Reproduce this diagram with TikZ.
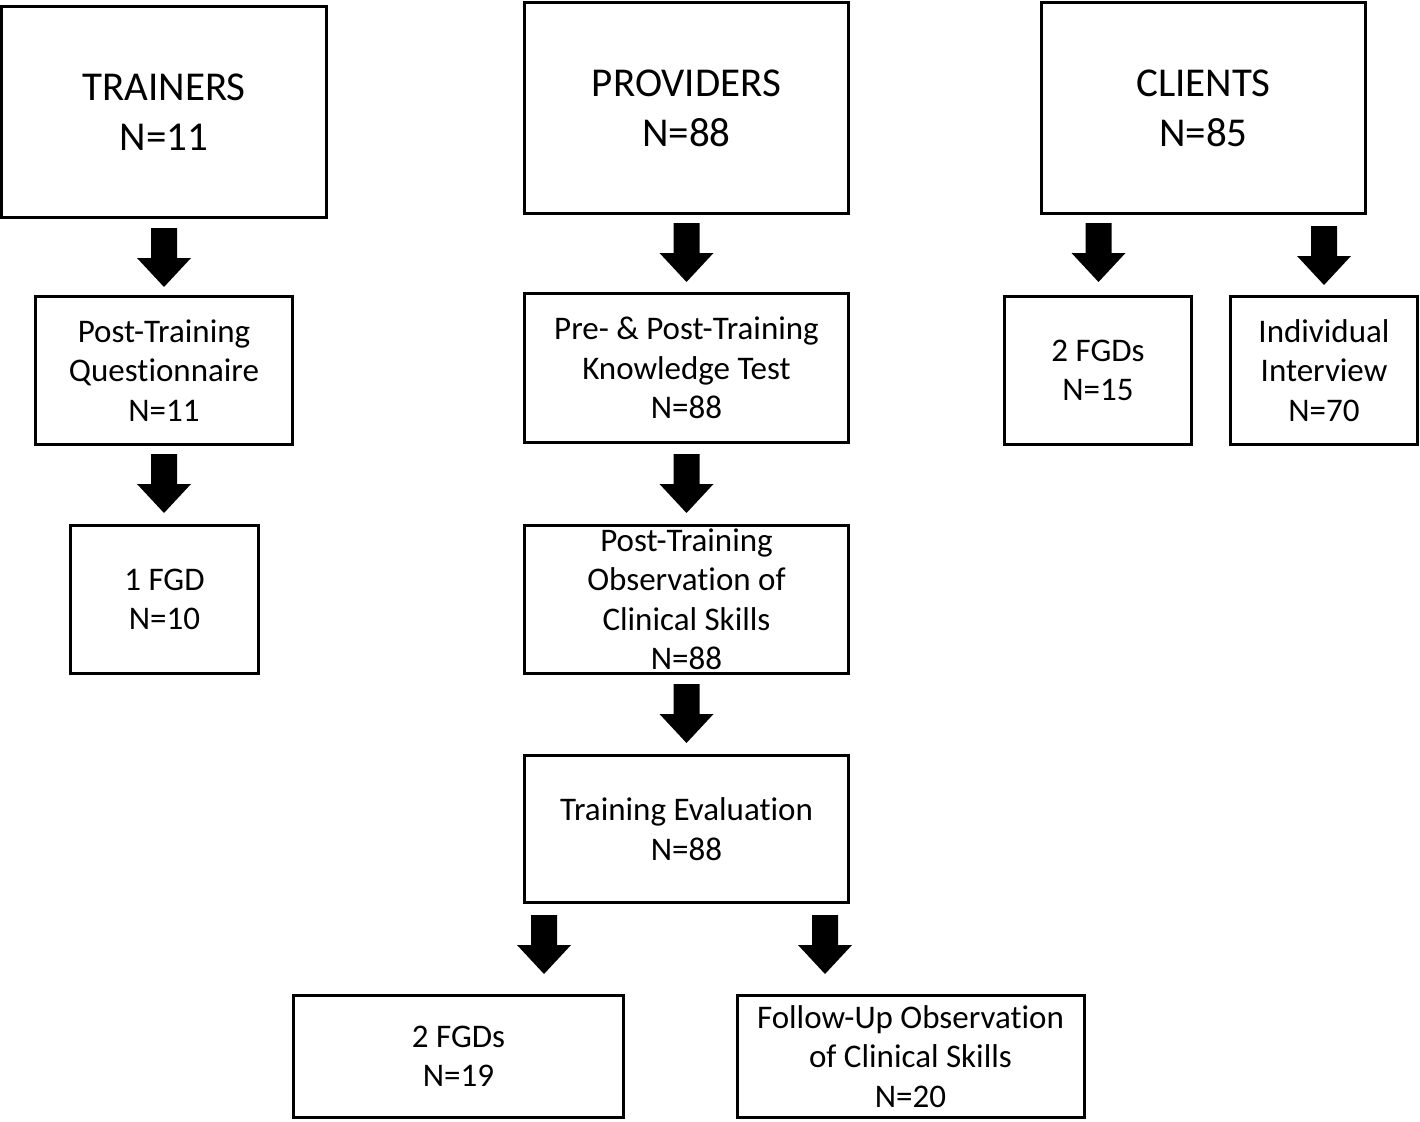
\documentclass[tikz,border=0pt]{standalone}
\usepackage{fontspec}
\setmainfont[RawFeature=-liga]{Carlito}
\begin{document}
\begin{tikzpicture}[x=1pt,y=-1pt,
  box/.style={draw,line width=3pt,rectangle,inner sep=0pt,align=center,font=\fontsize{33}{39.5}\selectfont},
  bigbox/.style={box,font=\fontsize{41}{50}\selectfont},
  pics/downarrow/.style={code={\fill (-13,0) -- (13,0) -- (13,30) -- (27,30) -- (0,59) -- (-27,30) -- (-13,30) -- cycle;}}]
\useasboundingbox (0,0) rectangle (1420,1121);
% top row
\node[bigbox,minimum width=325pt,minimum height=211pt] (trainers) at (164,112) {TRAINERS\\N=11};
\node[bigbox,minimum width=324pt,minimum height=211pt] (providers) at (686.5,108) {PROVIDERS\\N=88};
\node[bigbox,minimum width=324pt,minimum height=211pt] (clients) at (1203.5,108) {CLIENTS\\N=85};
% second row
\node[box,minimum width=257pt,minimum height=148pt] (ptq) at (164,370.5) {Post-Training\\Questionnaire\\N=11};
\node[box,minimum width=324pt,minimum height=149pt] (knowledge) at (686.5,368) {Pre- \& Post-Training\\Knowledge Test\\N=88};
\node[box,minimum width=187pt,minimum height=148pt] (cfgd) at (1098,370.5) {2 FGDs\\N=15};
\node[box,minimum width=187pt,minimum height=148pt] (interview) at (1324,370.5) {Individual\\Interview\\N=70};
% third row
\node[box,minimum width=188pt,minimum height=148pt] (tfgd) at (164.5,599.5) {1 FGD\\N=10};
\node[box,minimum width=324pt,minimum height=148pt] (observation) at (686.5,599.5) {Post-Training\\Observation of\\Clinical Skills\\N=88};
% fourth row
\node[box,minimum width=324pt,minimum height=147pt] (evaluation) at (686.5,829) {Training Evaluation\\N=88};
% bottom row
\node[box,minimum width=330pt,minimum height=122pt] (pfgd) at (458.5,1056.5) {2 FGDs\\N=19};
\node[box,minimum width=347pt,minimum height=122pt] (followup) at (910.5,1056.5) {Follow-Up Observation\\of Clinical Skills\\N=20};
% block arrows
\pic at (164,228) {downarrow};
\pic at (164,454) {downarrow};
\pic at (686.5,223) {downarrow};
\pic at (686.5,454) {downarrow};
\pic at (686.5,684) {downarrow};
\pic at (544,915) {downarrow};
\pic at (825,915) {downarrow};
\pic at (1098.5,223) {downarrow};
\pic at (1324,226) {downarrow};
\end{tikzpicture}
\end{document}
